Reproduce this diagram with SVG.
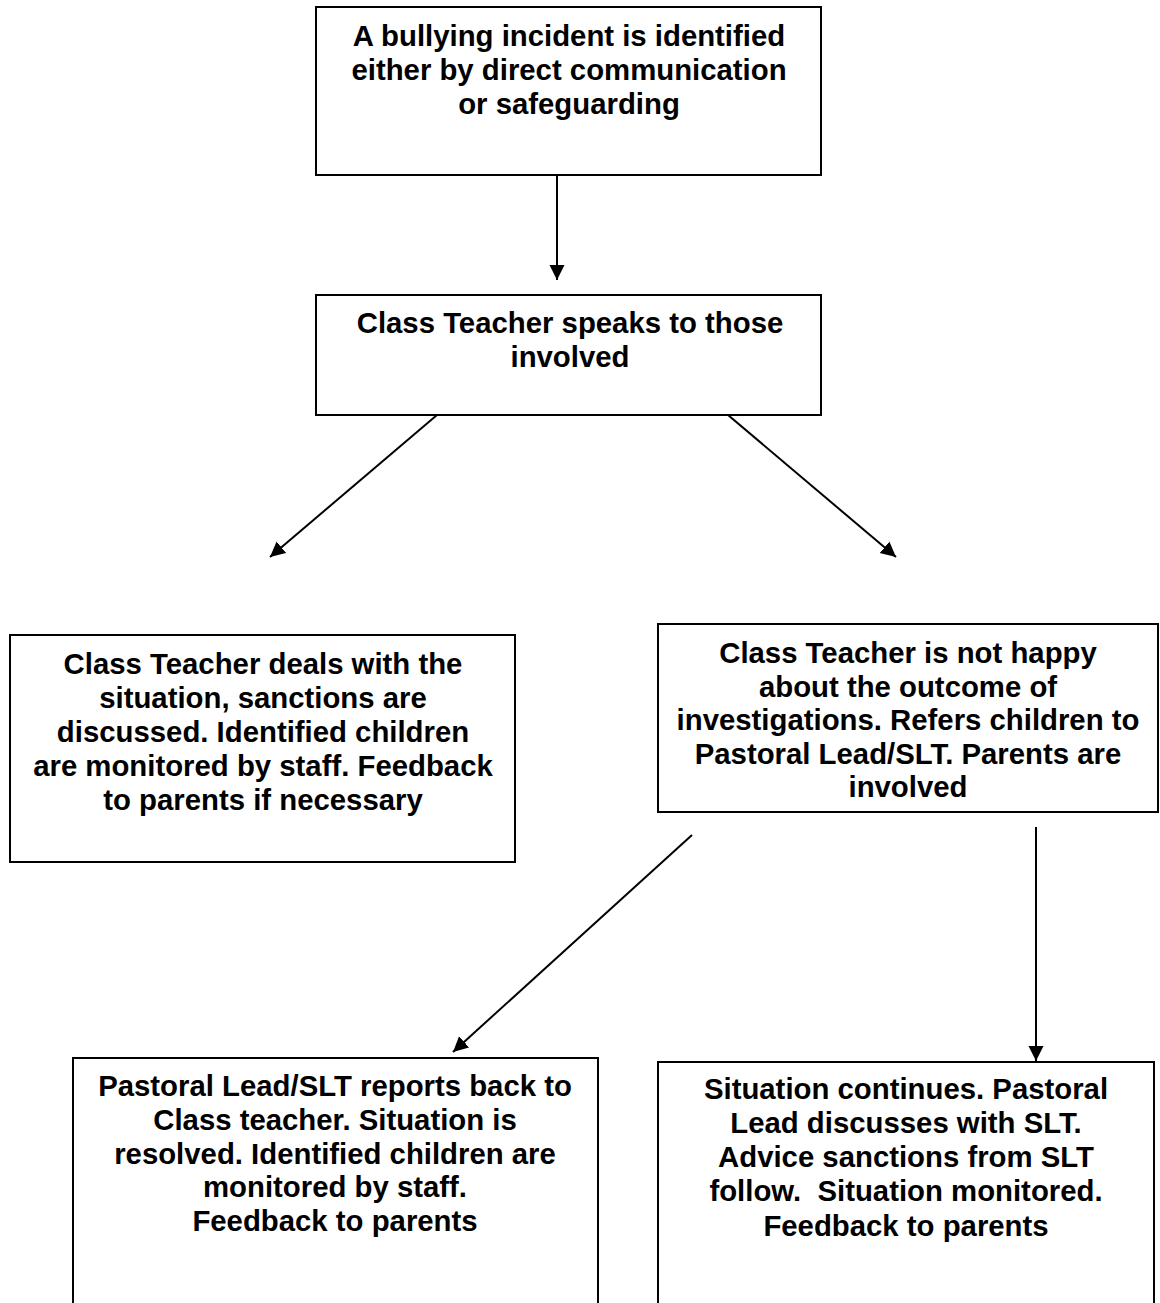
<svg xmlns="http://www.w3.org/2000/svg" width="1160" height="1303" viewBox="0 0 1160 1303">
<style>
.box{fill:#fff;stroke:#000;stroke-width:2}
.t{font-family:"Liberation Sans",Arial,sans-serif;font-weight:bold;font-size:29.33px;fill:#000;text-anchor:middle;white-space:pre}
.c{stroke:#000;stroke-width:2;fill:none;marker-end:url(#ah)}
</style>
<defs>
<marker id="ah" markerUnits="userSpaceOnUse" markerWidth="16" markerHeight="16" viewBox="0 0 16 16" refX="15" refY="8" orient="auto">
<path d="M0,0.5 L15,8 L0,15.5 z" fill="#000"/>
</marker>
</defs>
<rect width="1160" height="1303" fill="#fff"/>
<g id="connectors">
<line class="c" x1="557" y1="175" x2="557" y2="280"/>
<line class="c" x1="437" y1="415" x2="270" y2="557"/>
<line class="c" x1="728" y1="415" x2="896" y2="557"/>
<line class="c" x1="692" y1="835" x2="453" y2="1052"/>
<line class="c" x1="1036" y1="827" x2="1036" y2="1061"/>
</g>
<g id="n1">
<rect class="box" x="316" y="7" width="505" height="168"/>
<text class="t" x="569" y="45.5">A bullying incident is identified</text>
<text class="t" x="569" y="79.5">either by direct communication</text>
<text class="t" x="569" y="113.5">or safeguarding</text>
</g>
<g id="n2">
<rect class="box" x="316" y="295" width="505" height="120"/>
<text class="t" x="570" y="333">Class Teacher speaks to those</text>
<text class="t" x="570" y="367">involved</text>
</g>
<g id="n3">
<rect class="box" x="10" y="635" width="505" height="227"/>
<text class="t" x="263" y="674">Class Teacher deals with the</text>
<text class="t" x="263" y="708">situation, sanctions are</text>
<text class="t" x="263" y="742">discussed. Identified children</text>
<text class="t" x="263" y="776">are monitored by staff. Feedback</text>
<text class="t" x="263" y="810">to parents if necessary</text>
</g>
<g id="n4">
<rect class="box" x="658" y="624" width="500" height="188"/>
<text class="t" x="908" y="663">Class Teacher is not happy</text>
<text class="t" x="908" y="697">about the outcome of</text>
<text class="t" x="908" y="730">investigations. Refers children to</text>
<text class="t" x="908" y="764">Pastoral Lead/SLT. Parents are</text>
<text class="t" x="908" y="797">involved</text>
</g>
<g id="n5">
<rect class="box" x="73" y="1058" width="525" height="260"/>
<text class="t" x="335" y="1096">Pastoral Lead/SLT reports back to</text>
<text class="t" x="335" y="1130">Class teacher. Situation is</text>
<text class="t" x="335" y="1164">resolved. Identified children are</text>
<text class="t" x="335" y="1197">monitored by staff.</text>
<text class="t" x="335" y="1231">Feedback to parents</text>
</g>
<g id="n6">
<rect class="box" x="658" y="1062" width="496" height="260"/>
<text class="t" x="906" y="1099">Situation continues. Pastoral</text>
<text class="t" x="906" y="1133">Lead discusses with SLT.</text>
<text class="t" x="906" y="1167">Advice sanctions from SLT</text>
<text class="t" x="906" y="1201">follow.  Situation monitored.</text>
<text class="t" x="906" y="1236">Feedback to parents</text>
</g>
</svg>
